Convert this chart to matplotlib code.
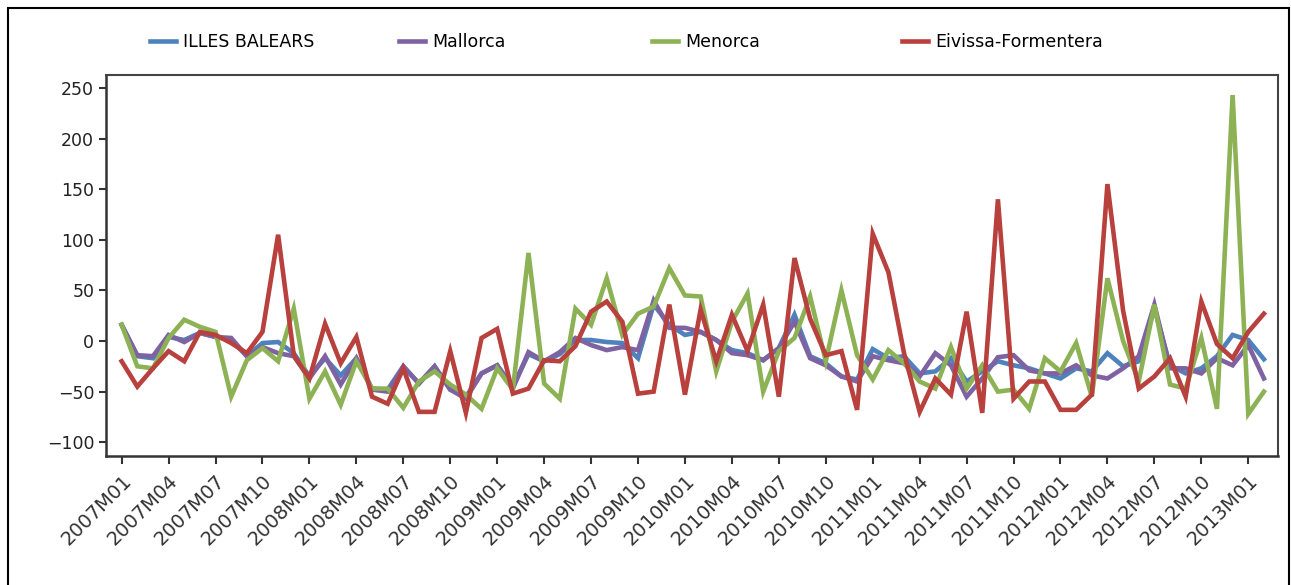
import matplotlib
matplotlib.use("Agg")
import matplotlib.pyplot as plt
from matplotlib.patches import Rectangle

# Monthly series, 2007M01 .. 2013M02
months = [f"{y}M{m:02d}" for y in range(2007, 2014) for m in range(1, 13)][:74]

illes_balears = [16, -15, -17, 4, 1, 8, 4, 1, -15, -2, -1, -12, -35, -17, -34,
                 -17, -47, -48, -25, -42, -25, -48, -55, -32, -24, -45, -13, -20, -13, 1,
                 1, -1, -2, -17, 36, 16, 6, 9, 1, -9, -12, -19, -7, 26, -15,
                 -22, -35, -38, -8, -17, -15, -32, -30, -17, -40, -30, -20, -24, -27, -32,
                 -37, -27, -30, -12, -25, -20, 32, -24, -32, -27, -15, 6, 1, -18]
mallorca = [16, -14, -15, 6, -1, 8, 4, 3, -15, -6, -12, -15, -37, -15, -43,
            -17, -48, -50, -25, -42, -25, -48, -57, -32, -24, -47, -11, -20, -11, 3,
            -4, -9, -6, -9, 40, 13, 13, 9, 1, -12, -14, -19, -7, 19, -17,
            -24, -35, -40, -15, -19, -22, -35, -12, -24, -55, -37, -16, -14, -29, -32,
            -32, -24, -34, -37, -27, -15, 36, -27, -27, -32, -17, -24, -4, -37]
menorca = [16, -25, -27, 3, 21, 14, 9, -55, -19, -7, -20, 32, -57, -30, -63,
           -20, -47, -47, -66, -40, -30, -43, -53, -67, -27, -48, 87, -42, -57, 32,
           16, 62, 6, 27, 34, 72, 45, 44, -30, 19, 47, -50, -10, 3, 44,
           -20, 50, -14, -38, -9, -22, -40, -47, -6, -47, -24, -50, -48, -67, -17,
           -30, -2, -55, 62, 0, -40, 36, -43, -47, 3, -67, 243, -72, -50]
eivissa = [-20, -45, -27, -10, -20, 9, 6, -2, -12, 9, 105, -14, -37, 17, -22,
           4, -55, -62, -27, -70, -70, -10, -71, 3, 12, -52, -47, -19, -20, -5,
           29, 39, 19, -52, -50, 36, -53, 31, -20, 26, -10, 36, -55, 82, 22,
           -14, -10, -68, 106, 68, -12, -70, -37, -53, 29, -71, 140, -57, -40, -40,
           -68, -68, -53, 155, 30, -47, -35, -17, -55, 39, -3, -17, 9, 27]

series = [("ILLES BALEARS", illes_balears, "#4F81BD"),
          ("Mallorca", mallorca, "#7E62A1"),
          ("Menorca", menorca, "#8DB255"),
          ("Eivissa-Formentera", eivissa, "#B8403D")]

plt.rcParams['font.family'] = ['DejaVu Sans']

fig = plt.figure(figsize=[12.91, 5.85], dpi=100)
ax = fig.add_axes([106/1291, 1 - 456/585, (1278 - 106)/1291, (456 - 75)/585])

x = list(range(len(months)))
lineas = []
for nome, valores, cor in series:
    l, = ax.plot(x, valores, color=cor, lw=3.3, solid_joinstyle='miter')
    lineas.append(l)

ax.set_xlim(-1.0, 73.9)
ax.set_ylim(-113.6, 262.8)
ax.set_yticks(range(-100, 251, 50))
ax.set_xticks(x[::3])
ax.set_xticklabels(months[::3], rotation=45, ha='right', va='top',
                   rotation_mode='anchor', fontsize=14, color='#333333')
ax.tick_params(axis='y', labelsize=12.5, labelcolor='#222222', length=5,
               width=1.5, color='#333333')
ax.tick_params(axis='x', length=6, width=1.5, color='#333333', pad=5)
for lado in ['left', 'bottom']:
    ax.spines[lado].set_linewidth(1.8)
    ax.spines[lado].set_color('#333333')
for lado in ['top', 'right']:
    ax.spines[lado].set_linewidth(1.5)
    ax.spines[lado].set_color('#444444')

# Legenda: uma entrada por coluna, posicoes fixas
posicoes = [150, 399, 652, 902]
for l, (nome, _, _), px in zip(lineas, series, posicoes):
    fig.legend([l], [nome], loc='center left', bbox_to_anchor=(px/1291, 1 - 42/585),
               frameon=False, fontsize=12.5, handlelength=1.5, handletextpad=0.4,
               borderpad=0, borderaxespad=0)

# Moldura externa
fig.patches.append(Rectangle((8/1291, -0.05), (1289 - 8)/1291, 1.05 - 8/585,
                             transform=fig.transFigure, fill=False,
                             edgecolor='black', lw=1.5))

fig.savefig('out.png', dpi=100)
